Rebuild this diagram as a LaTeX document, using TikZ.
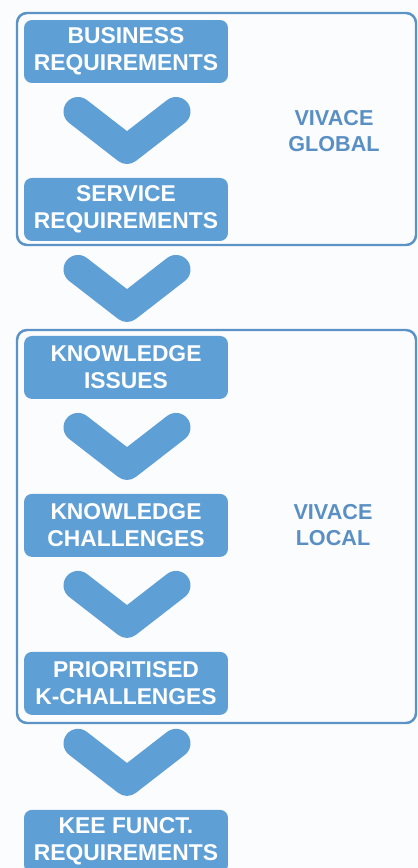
\documentclass[tikz,border=0pt]{standalone}
\usepackage{fontspec}
\setmainfont{Liberation Sans}
\usepackage{xcolor}
\usepackage{tikz}
\usetikzlibrary{calc,positioning}
\definecolor{vivfill}{HTML}{5E9FD6}
\definecolor{vivframe}{HTML}{5C93C6}
\definecolor{vivtext}{HTML}{5A8FC3}
\definecolor{vivpaper}{HTML}{FBFCFE}

\begin{document}
\begin{tikzpicture}[
  x=0.02cm, y=-0.02cm,
  stepbox/.style={fill=vivfill, draw=none, rounded corners=0.16cm, inner sep=1pt, outer sep=0pt, minimum width=4.08cm, minimum height=1.26cm, align=center, text=white, font=\fontsize{13}{15.3}\selectfont\bfseries},
  chev/.style={draw=vivfill, line width=0.58cm, line cap=round, line join=round},
  framebox/.style={draw=vivframe, line width=1.4pt, rounded corners=0.2cm},
  tagnode/.style={align=center, text=vivtext, font=\fontsize{12.3}{15.2}\selectfont\bfseries}
]
  \clip (0,0) rectangle (418,868);
  \fill[vivpaper] (0,0) rectangle (418,868);
  % frames round the two groups
  \draw[framebox] (17,13) rectangle (416,245);
  \draw[framebox] (17,330) rectangle (416,723);
  % steps
  \node[stepbox] (busreq) at (126,51.5) {BUSINESS\\REQUIREMENTS};
  \node[stepbox, below=1.9cm of busreq] (servreq) {SERVICE\\REQUIREMENTS};
  \node[stepbox, below=1.9cm of servreq] (kissues) {KNOWLEDGE\\ISSUES};
  \node[stepbox, below=1.9cm of kissues] (kchall) {KNOWLEDGE\\CHALLENGES};
  \node[stepbox, below=1.9cm of kchall] (prio) {PRIORITISED\\K-CHALLENGES};
  \node[stepbox, below=1.9cm of prio] (keereq) {KEE FUNCT.\\REQUIREMENTS};
  % labels
  \node[tagnode] (global) at (334,131) {VIVACE\\GLOBAL};
  \node[tagnode] (local) at (333,525) {VIVACE\\LOCAL};
  % chevrons between steps
  \foreach \a/\b in {busreq/servreq, servreq/kissues, kissues/kchall, kchall/prio, prio/keereq}
    \draw[chev] ($(\a.south)!0.5!(\b.north)+(-48,-19)$) -- ($(\a.south)!0.5!(\b.north)+(1,19)$) -- ($(\a.south)!0.5!(\b.north)+(50,-19)$);
\end{tikzpicture}
\end{document}
